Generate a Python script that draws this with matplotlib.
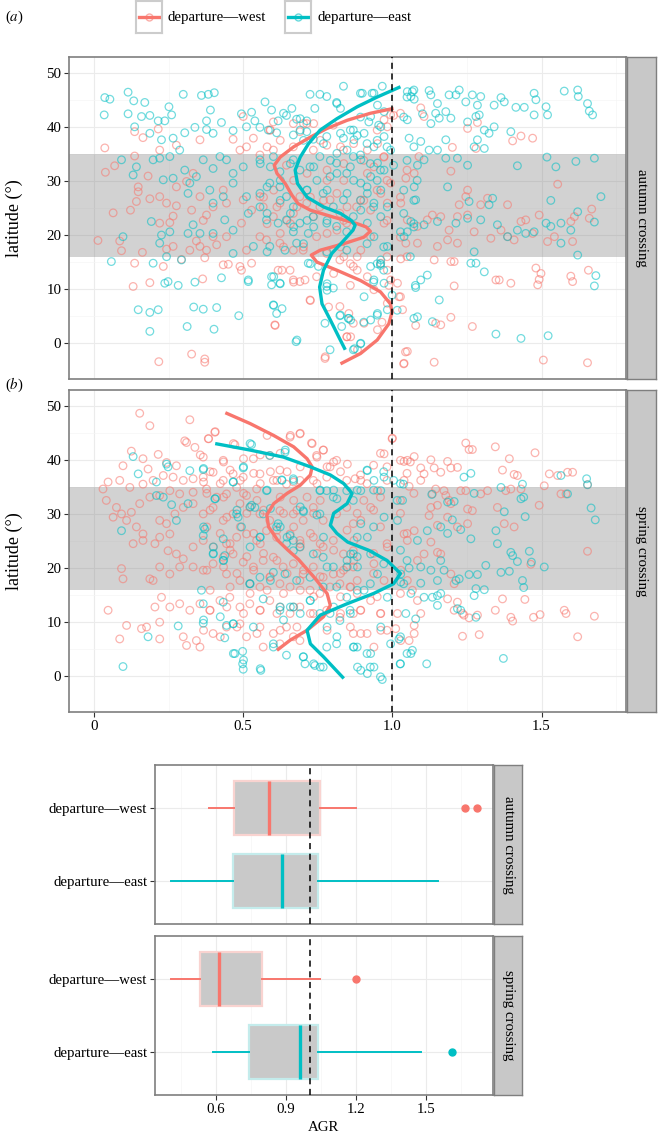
import numpy as np
import matplotlib
matplotlib.use('Agg')
from matplotlib import pyplot as plt

plt.rcParams['font.family'] = ['Liberation Serif', 'DejaVu Serif']
plt.rcParams['mathtext.fontset'] = 'stix'

RED = '#F8766D'
CYAN = '#00BFC4'

# ---- scatter data (AGR, latitude) ----
aut_west = [
    (0.013, 19.0), (0.086, 18.9), (0.092, 17.1), (0.162, 16.8), (0.243, 17.4), (0.265, 17.9), (0.343, 18.9),
    (0.377, 17.2), (0.411, 18.2), (0.136, 14.8), (0.232, 14.2), (0.293, 15.5), (0.371, 15.8), (0.433, 14.5),
    (0.450, 14.6), (0.494, 13.5), (0.489, 14.2), (0.528, 14.8), (0.617, 13.5), (0.657, 13.5), (0.668, 11.7),
    (0.690, 11.4), (0.707, 11.7), (0.724, 8.0), (0.746, 12.3), (0.131, 10.5), (0.187, 11.2), (0.364, 11.9),
    (0.606, 3.4), (0.774, -2.8), (0.824, 6.8), (0.847, 1.2), (0.327, -2.0), (0.371, -2.9), (0.371, -3.5),
    (0.217, -3.4), (0.869, 3.7), (0.036, 36.1), (0.069, 32.8), (0.038, 31.6), (0.136, 39.1), (0.164, 38.0),
    (0.136, 34.6), (0.181, 30.9), (0.148, 28.9), (0.148, 28.0), (0.064, 24.1), (0.122, 24.6), (0.142, 26.2),
    (0.187, 26.7), (0.220, 27.1), (0.243, 25.9), (0.276, 25.4), (0.265, 23.5), (0.254, 22.3), (0.220, 22.2),
    (0.276, 28.9), (0.310, 29.9), (0.332, 31.4), (0.327, 24.6), (0.355, 27.1), (0.366, 22.7), (0.377, 23.7),
    (0.399, 25.2), (0.444, 25.9), (0.433, 28.3), (0.500, 26.5), (0.528, 24.6), (0.556, 27.1), (0.567, 25.2),
    (0.601, 23.4), (0.623, 25.9), (0.668, 24.0), (0.690, 27.1), (0.713, 25.9), (0.735, 23.4), (0.757, 25.2),
    (0.791, 26.5), (0.824, 24.0), (0.847, 22.2), (0.880, 25.2), (0.489, 35.7), (0.511, 36.3), (0.556, 34.8),
    (0.601, 35.7), (0.645, 32.9), (0.668, 36.3), (0.735, 35.7), (0.780, 36.6), (0.836, 35.7), (0.215, 39.6),
    (0.220, 35.7), (0.276, 36.6), (0.355, 37.6), (0.466, 37.7), (0.534, 37.9), (0.589, 39.4), (0.601, 40.9),
    (0.668, 40.6), (0.690, 39.1), (0.802, 40.3), (0.500, 41.9), (0.713, 40.6), (0.494, 22.2), (0.556, 19.7),
    (0.623, 18.5), (0.668, 17.2), (0.701, 17.2), (0.746, 19.7), (0.780, 16.6), (0.824, 15.4), (0.869, 14.2),
    (0.399, 19.7), (0.444, 19.7), (0.511, 17.2), (0.578, 19.1), (0.321, 17.2), (0.355, 17.9),
    (1.095, 43.5), (1.106, 41.9), (1.252, 39.7), (1.285, 40.8), (1.403, 37.4), (1.431, 38.3), (1.470, 37.9),
    (1.201, 36.2), (1.280, 36.0), (1.045, 30.5), (1.089, 34.5), (1.073, 31.4), (1.196, 31.8), (1.252, 28.3),
    (1.246, 27.1), (1.224, 25.6), (1.296, 25.6), (1.386, 25.6), (1.319, 26.8), (1.554, 29.4), (1.668, 24.8),
    (1.028, 25.9), (1.050, 22.8), (1.084, 21.6), (1.117, 22.8), (1.134, 23.7), (1.162, 23.4), (1.190, 20.9),
    (1.218, 23.4), (1.252, 23.7), (1.274, 20.6), (1.330, 19.4), (1.364, 20.9), (1.386, 19.7), (1.408, 19.1),
    (1.431, 22.5), (1.447, 22.8), (1.470, 20.3), (1.492, 23.7), (1.520, 18.8), (1.543, 19.7), (1.598, 22.5),
    (1.604, 18.8), (1.610, 23.4), (1.660, 23.1), (1.045, 18.5), (1.084, 18.5), (1.151, 17.9), (1.185, 19.1),
    (1.218, 18.5), (1.028, 15.6), (1.140, 15.4), (1.196, 15.1), (1.207, 10.6), (1.207, 15.1), (1.268, 3.1),
    (1.162, 3.4), (1.196, 4.8), (1.145, 3.7), (1.347, 11.7), (1.358, 11.7), (1.397, 11.1), (1.481, 13.9),
    (1.498, 12.9), (1.492, 11.8), (1.487, 10.8), (1.598, 12.4), (1.604, 11.4), (1.657, 13.5), (1.050, -1.5),
    (1.039, -3.7), (1.140, -3.5), (1.506, -3.1), (1.654, -3.6), (1.078, 3.3), (1.022, 8.6), (1.034, 6.2),
    (1.017, 11.1), (0.994, 42.2), (0.972, 41.3), (0.983, 40.0), (0.950, 36.9), (0.916, 35.7), (0.972, 34.5),
    (0.938, 32.6), (0.994, 29.6), (0.916, 31.4), (0.961, 27.7), (0.894, 26.5), (0.983, 25.9), (0.927, 24.6),
    (0.972, 22.2), (0.927, 19.7), (0.894, 17.2), (0.961, 14.8), (0.983, 13.5), (0.916, 12.3), (0.938, 9.9),
    (0.994, 11.7), (0.905, 3.7), (0.950, 2.5), (0.983, 7.4), (0.860, 1.2), (0.883, -1.2),
    (0.591, 39.4), (0.702, 40.6), (0.736, 40.6), (0.758, 37.5), (0.826, 36.3), (0.870, 36.9), (0.949, 39.4),
    (1.004, 42.1), (1.027, 42.5), (0.904, 33.8), (0.971, 34.4), (0.837, 33.2), (0.781, 32.0), (0.714, 31.4),
    (0.669, 30.1), (0.602, 28.3), (0.568, 27.0), (0.613, 25.2), (0.680, 25.2), (0.725, 27.0), (0.769, 26.4),
    (0.814, 27.7), (0.848, 25.2), (0.904, 26.4), (0.949, 28.3), (0.982, 30.1), (0.837, 30.1), (0.781, 30.1),
    (0.647, 22.7), (0.837, 22.7), (0.982, 22.7), (1.027, 27.0), (1.049, 32.0), (0.580, 36.3), (0.624, 37.5),
    (0.580, 22.1), (0.624, 20.3), (0.658, 22.1), (0.635, 17.8), (0.702, 17.8), (0.781, 20.3), (0.814, 20.9),
    (0.826, 17.8), (0.837, 16.0), (0.882, 16.0), (0.859, 14.7), (0.882, 13.5), (0.982, 16.0), (1.027, 19.6),
    (1.049, 16.0), (0.803, 12.9), (0.859, 10.7), (0.988, 10.7), (1.027, 8.6), (0.786, 6.7), (0.854, 5.5),
    (0.848, 1.2), (0.775, -2.5), (1.044, -1.6), (1.038, -3.8), (0.965, 3.9), (0.669, 11.3), (0.607, 3.3),
    (0.725, 7.9), (0.630, 13.5),
]

aut_east = [
    (0.036, 45.4), (0.053, 45.1), (0.034, 42.2), (0.114, 46.4), (0.133, 44.8), (0.170, 44.5), (0.114, 42.4),
    (0.136, 40.0), (0.159, 41.9), (0.187, 42.1), (0.215, 41.1), (0.251, 43.7), (0.260, 42.2), (0.237, 41.1),
    (0.299, 46.0), (0.360, 45.8), (0.383, 46.0), (0.403, 46.3), (0.390, 43.1), (0.377, 41.1), (0.427, 40.8),
    (0.494, 42.4), (0.528, 42.7), (0.539, 41.1), (0.573, 44.6), (0.595, 43.1), (0.617, 41.1), (0.645, 42.1),
    (0.679, 41.4), (0.724, 46.0), (0.757, 46.0), (0.780, 45.6), (0.836, 47.5), (0.813, 44.5), (0.740, 43.4),
    (0.713, 41.1), (0.187, 38.8), (0.226, 37.6), (0.265, 37.9), (0.304, 38.9), (0.338, 39.9), (0.377, 39.5),
    (0.399, 38.8), (0.466, 39.3), (0.511, 40.0), (0.556, 39.9), (0.584, 39.4), (0.612, 38.9), (0.668, 38.5),
    (0.713, 39.1), (0.735, 37.7), (0.780, 38.2), (0.836, 37.9), (0.869, 39.4), (0.092, 33.9), (0.131, 31.1),
    (0.142, 32.6), (0.198, 33.9), (0.220, 34.2), (0.254, 34.5), (0.287, 35.7), (0.304, 32.0), (0.321, 29.6),
    (0.343, 30.8), (0.366, 33.9), (0.399, 32.3), (0.422, 34.5), (0.444, 33.9), (0.466, 31.4), (0.500, 32.6),
    (0.556, 33.9), (0.601, 34.5), (0.623, 31.7), (0.668, 33.9), (0.690, 32.0), (0.724, 32.6), (0.757, 34.5),
    (0.791, 30.8), (0.813, 33.3), (0.847, 31.4), (0.869, 34.5), (0.232, 30.2), (0.265, 30.5), (0.315, 27.7),
    (0.388, 28.3), (0.399, 25.9), (0.433, 27.1), (0.466, 29.6), (0.511, 27.1), (0.556, 27.7), (0.589, 29.6),
    (0.623, 28.9), (0.645, 27.1), (0.668, 25.2), (0.713, 28.3), (0.768, 27.7), (0.802, 25.2), (0.836, 26.5),
    (0.192, 22.5), (0.226, 20.0), (0.220, 18.5), (0.254, 20.6), (0.315, 20.3), (0.332, 21.9), (0.355, 20.3),
    (0.399, 20.3), (0.438, 22.8), (0.466, 20.9), (0.517, 24.0), (0.556, 25.2), (0.578, 22.8), (0.617, 22.2),
    (0.645, 22.8), (0.668, 20.6), (0.690, 22.2), (0.718, 20.3), (0.735, 23.4), (0.780, 22.2), (0.813, 21.6),
    (0.847, 20.6), (0.869, 23.4), (0.097, 19.7), (0.058, 15.1), (0.198, 14.8), (0.243, 16.0), (0.293, 15.4),
    (0.466, 16.6), (0.517, 11.7), (0.517, 11.4), (0.534, 17.9), (0.589, 17.9), (0.640, 17.2), (0.679, 18.5),
    (0.718, 14.8), (0.752, 14.2), (0.780, 16.9), (0.847, 17.2), (0.237, 11.1), (0.248, 11.4), (0.282, 10.7),
    (0.338, 11.3), (0.427, 12.1), (0.595, 12.3), (0.623, 11.1), (0.595, 10.8), (0.780, 10.5), (0.802, 10.2),
    (0.148, 6.2), (0.187, 5.7), (0.215, 6.2), (0.334, 6.7), (0.366, 6.3), (0.411, 6.6), (0.485, 5.1),
    (0.601, 7.1), (0.612, 5.5), (0.187, 2.2), (0.312, 3.1), (0.402, 2.6), (0.677, 0.3), (0.774, 3.7),
    (0.824, 5.1), (0.852, 4.6), (0.830, 3.1), (0.869, -1.2), (0.791, -1.2),
    (1.050, 46.5), (1.062, 45.6), (1.067, 46.5), (1.073, 45.1), (1.123, 46.7), (1.129, 45.9), (1.151, 44.3),
    (1.190, 45.9), (1.213, 45.9), (1.224, 46.8), (1.246, 44.6), (1.268, 45.9), (1.285, 44.0), (1.296, 45.6),
    (1.341, 44.0), (1.364, 45.4), (1.375, 44.6), (1.414, 43.6), (1.442, 43.6), (1.475, 46.2), (1.481, 45.0),
    (1.475, 42.2), (1.515, 43.7), (1.520, 42.2), (1.576, 46.6), (1.621, 46.8), (1.623, 45.6), (1.654, 44.3),
    (1.660, 42.9), (1.671, 42.2), (1.101, 42.4), (1.145, 42.5), (1.157, 41.6), (1.179, 42.8), (1.196, 41.6),
    (1.252, 40.9), (1.280, 41.9), (1.291, 42.2), (1.308, 39.4), (1.324, 38.8), (1.341, 40.0), (1.050, 41.3),
    (1.056, 37.9), (1.095, 37.3), (1.123, 35.7), (1.151, 35.7), (1.179, 37.6), (1.285, 37.6), (1.274, 36.3),
    (1.308, 36.0), (1.397, 39.1), (1.129, 40.6), (1.084, 32.9), (1.106, 33.9), (1.179, 34.2), (1.218, 34.2),
    (1.252, 32.9), (1.419, 32.8), (1.518, 34.4), (1.548, 32.6), (1.615, 33.6), (1.677, 34.2), (1.073, 28.9),
    (1.078, 26.5), (1.185, 28.9), (1.257, 26.2), (1.324, 25.6), (1.336, 26.8), (1.531, 26.4), (1.699, 27.1),
    (1.621, 24.3), (1.106, 21.9), (1.151, 22.5), (1.213, 22.2), (1.252, 23.1), (1.296, 22.8), (1.352, 21.9),
    (1.386, 19.7), (1.419, 20.9), (1.447, 20.3), (1.475, 20.6), (1.515, 22.2), (1.531, 21.6), (1.565, 22.2),
    (1.598, 20.9), (1.677, 22.4), (1.565, 18.5), (1.621, 16.3), (1.274, 16.9), (1.263, 14.8), (1.280, 14.8),
    (1.308, 13.2), (1.095, 11.7), (1.078, 10.3), (1.117, 12.6), (1.682, 12.5), (1.677, 10.6), (1.157, 8.0),
    (1.084, 4.9), (1.134, 4.0), (1.347, 1.7), (1.431, 0.9), (1.522, 1.4), (1.062, 22.5), (1.050, 20.6),
    (1.039, 19.7), (0.938, 46.2), (0.966, 47.5), (0.899, 46.2), (0.950, 44.0), (0.972, 42.8), (0.927, 41.9),
    (0.961, 40.0), (0.871, 37.6), (0.905, 38.8), (0.972, 38.2), (0.938, 36.3), (0.994, 35.7), (0.894, 33.9),
    (0.950, 33.3), (0.972, 32.0), (0.927, 30.8), (0.894, 29.6), (0.961, 28.3), (0.916, 27.7), (0.983, 25.2),
    (0.938, 25.9), (0.894, 24.6), (0.961, 23.4), (0.916, 22.2), (0.938, 19.7), (0.983, 17.9), (0.961, 15.4),
    (0.927, 14.2), (0.938, 11.7), (0.972, 11.1), (0.905, 8.6), (0.950, 5.5), (0.927, 4.3), (0.860, 4.3),
    (0.894, 0.0), (0.983, 6.2),
    (0.635, 42.5), (0.663, 43.4), (0.691, 41.5), (0.814, 44.3), (0.826, 43.4), (0.893, 46.2), (0.932, 46.2),
    (0.893, 41.8), (0.921, 40.9), (0.954, 40.3), (0.859, 39.4), (0.826, 38.8), (0.882, 38.4), (0.915, 36.9),
    (0.949, 37.5), (0.982, 36.3), (0.848, 35.7), (0.814, 35.1), (0.893, 34.8), (0.926, 33.2), (0.960, 32.0),
    (1.004, 32.9), (0.859, 32.6), (0.814, 31.4), (0.870, 30.1), (0.915, 28.9), (0.949, 30.1), (0.848, 27.7),
    (0.893, 26.4), (0.937, 25.2), (0.747, 30.1), (0.781, 28.3), (0.736, 32.6), (0.792, 33.8), (0.714, 28.3),
    (0.658, 33.2), (0.624, 30.1), (0.591, 32.6), (0.557, 33.2), (0.580, 28.9), (0.624, 26.4), (0.658, 24.0),
    (0.580, 24.0), (0.714, 22.7), (0.781, 22.7), (0.691, 39.4), (0.702, 37.5), (0.769, 36.9), (1.072, 46.8),
    (1.049, 45.5), (1.038, 41.8), (1.072, 36.3), (1.049, 33.8), (1.083, 30.1), (1.038, 28.3), (1.072, 26.4),
    (1.038, 24.0), (1.072, 22.1), (0.602, 12.3), (0.624, 11.0), (0.602, 7.0), (0.630, 6.4), (0.680, 0.6),
    (0.781, 11.0), (0.781, 9.8), (0.826, 5.2), (0.854, 4.6), (0.904, 3.9), (0.937, 11.3), (0.971, 13.5),
    (0.960, 14.4), (1.016, 6.1), (0.999, 8.9), (0.949, 5.2), (0.873, -1.0), (0.893, -0.1), (1.077, 10.7),
    (1.072, 4.6), (0.960, 14.7), (1.060, 16.0), (1.072, 21.5), (1.027, 20.6), (0.702, 18.4), (0.669, 21.5),
    (0.580, 16.9), (0.725, 14.7), (0.736, 21.5), (0.915, 18.4), (0.949, 14.7), (0.971, 17.8),
]

spr_west = [
    (0.153, 48.6), (0.187, 46.3), (0.321, 47.4), (0.304, 43.5), (0.405, 45.1), (0.383, 43.9), (0.338, 42.3),
    (0.310, 43.2), (0.125, 41.6), (0.164, 40.2), (0.097, 38.9), (0.181, 38.3), (0.215, 41.0), (0.243, 39.5),
    (0.276, 38.9), (0.366, 40.5), (0.433, 39.9), (0.472, 42.8), (0.534, 40.2), (0.589, 40.8), (0.657, 44.2),
    (0.690, 44.8), (0.729, 43.1), (0.768, 41.8), (0.746, 40.8), (0.813, 39.9), (0.791, 38.7), (0.623, 38.1),
    (0.556, 37.4), (0.500, 36.8), (0.466, 37.4), (0.433, 36.2), (0.399, 37.7), (0.366, 36.8), (0.332, 36.5),
    (0.299, 36.2), (0.265, 36.8), (0.232, 37.1), (0.198, 36.2), (0.164, 35.5), (0.047, 35.9), (0.030, 34.6),
    (0.041, 32.5), (0.086, 36.2), (0.120, 34.9), (0.064, 29.4), (0.092, 30.0), (0.125, 30.3), (0.153, 31.9),
    (0.187, 33.1), (0.220, 33.4), (0.254, 34.3), (0.287, 33.7), (0.332, 34.0), (0.377, 34.6), (0.411, 33.1),
    (0.444, 33.7), (0.478, 34.9), (0.511, 33.4), (0.545, 34.6), (0.601, 36.2), (0.645, 35.5), (0.690, 36.2),
    (0.735, 36.2), (0.780, 36.8), (0.847, 36.2), (0.875, 36.5), (0.075, 31.2), (0.109, 28.8), (0.142, 27.6),
    (0.164, 26.3), (0.131, 24.5), (0.164, 25.1), (0.204, 24.5), (0.220, 28.8), (0.243, 28.2), (0.271, 30.0),
    (0.299, 31.2), (0.332, 31.9), (0.366, 30.0), (0.399, 31.2), (0.433, 28.8), (0.466, 30.0), (0.489, 31.9),
    (0.522, 31.2), (0.556, 30.0), (0.589, 28.8), (0.623, 30.6), (0.668, 30.0), (0.701, 28.8), (0.735, 31.2),
    (0.768, 28.8), (0.813, 30.0), (0.847, 31.2), (0.869, 28.2), (0.220, 25.7), (0.254, 26.3), (0.276, 22.6),
    (0.299, 21.7), (0.332, 23.9), (0.366, 25.1), (0.399, 23.9), (0.444, 24.5), (0.478, 25.7), (0.511, 26.3),
    (0.545, 25.1), (0.578, 26.9), (0.612, 25.7), (0.657, 26.3), (0.690, 25.1), (0.735, 25.7), (0.768, 23.9),
    (0.802, 25.1), (0.836, 22.6), (0.869, 23.2), (0.092, 19.9), (0.097, 18.0), (0.187, 18.0), (0.198, 17.7),
    (0.248, 23.2), (0.220, 20.2), (0.254, 18.9), (0.287, 20.2), (0.332, 20.2), (0.366, 19.6), (0.399, 20.8),
    (0.433, 22.0), (0.466, 22.6), (0.500, 21.1), (0.534, 20.2), (0.567, 21.4), (0.601, 22.0), (0.634, 20.2),
    (0.668, 20.8), (0.701, 18.9), (0.735, 20.2), (0.768, 18.3), (0.802, 18.9), (0.836, 19.6), (0.869, 20.2),
    (0.444, 18.9), (0.489, 17.7), (0.522, 17.1), (0.556, 16.5), (0.589, 18.3), (0.623, 17.1), (0.657, 16.5),
    (0.690, 17.7), (0.724, 15.9), (0.757, 15.3), (0.791, 16.5), (0.824, 17.1), (0.858, 16.5), (0.047, 12.2),
    (0.226, 14.6), (0.204, 12.8), (0.254, 12.8), (0.287, 13.4), (0.321, 12.2), (0.355, 13.4), (0.388, 12.2),
    (0.422, 14.0), (0.455, 14.6), (0.489, 12.8), (0.522, 13.4), (0.556, 12.2), (0.589, 14.0), (0.623, 12.8),
    (0.657, 11.6), (0.690, 12.8), (0.735, 11.6), (0.780, 12.2), (0.824, 10.9), (0.869, 11.6), (0.109, 9.4),
    (0.159, 8.8), (0.176, 9.1), (0.220, 10.0), (0.086, 6.9), (0.220, 6.9), (0.299, 7.3), (0.310, 5.7),
    (0.343, 6.6), (0.355, 5.4), (0.399, 7.9), (0.444, 9.1), (0.489, 9.7), (0.511, 7.3), (0.556, 9.1),
    (0.601, 7.9), (0.668, 7.3), (0.645, 9.1), (0.567, 5.4), (0.623, 6.0), (0.690, 6.6), (0.869, 7.9),
    (1.246, 43.1), (1.257, 41.9), (1.268, 41.9), (1.345, 42.4), (1.478, 41.3), (1.000, 44.0), (0.972, 41.1),
    (1.039, 39.7), (1.050, 39.9), (1.073, 40.6), (1.095, 38.5), (1.106, 37.4), (1.129, 40.0), (1.140, 38.5),
    (1.162, 37.7), (1.185, 39.7), (1.196, 38.5), (1.218, 38.6), (1.369, 38.1), (1.392, 40.2), (1.408, 37.3),
    (1.419, 37.1), (1.526, 37.4), (1.554, 37.1), (1.587, 37.7), (1.604, 37.7), (1.565, 33.7), (1.582, 33.7),
    (1.654, 35.4), (1.039, 36.2), (1.056, 35.1), (1.095, 36.2), (1.134, 33.7), (1.145, 34.6), (1.173, 34.3),
    (1.179, 33.4), (1.190, 32.5), (1.196, 31.9), (1.229, 34.3), (1.246, 34.3), (1.296, 33.7), (1.319, 34.3),
    (1.352, 31.2), (1.380, 34.3), (1.397, 34.6), (1.431, 34.6), (1.492, 31.6), (1.509, 35.2), (1.129, 31.2),
    (1.151, 31.6), (1.252, 30.9), (1.268, 30.6), (1.123, 29.7), (1.151, 27.9), (1.185, 29.4), (1.218, 27.6),
    (1.252, 28.2), (1.375, 28.2), (1.408, 27.6), (1.039, 26.3), (1.050, 25.1), (1.073, 26.9), (1.129, 24.8),
    (1.151, 22.9), (1.106, 22.6), (1.084, 21.4), (1.162, 22.6), (1.196, 18.9), (1.207, 17.1), (1.028, 19.6),
    (1.050, 17.7), (1.067, 15.9), (1.084, 14.0), (1.185, 14.3), (1.218, 13.7), (1.235, 11.6), (1.240, 11.3),
    (1.207, 12.2), (1.257, 10.8), (1.285, 11.3), (1.345, 12.2), (1.369, 14.3), (1.397, 10.9), (1.403, 10.2),
    (1.444, 14.2), (1.473, 10.9), (1.495, 11.4), (1.576, 12.2), (1.582, 11.6), (1.654, 23.1), (1.464, 20.7),
    (1.677, 11.1), (1.621, 7.3), (1.235, 7.4), (1.291, 7.7), (1.073, 9.4), (1.073, 7.9), (1.056, 6.6),
    (1.095, 11.6), (1.017, 11.6), (1.011, 8.8), (1.028, 6.6), (0.961, 11.6), (0.961, 8.5), (0.938, 5.4),
    (0.894, 7.9), (0.927, 14.0), (0.894, 12.2), (0.860, 16.5), (0.849, 20.2), (0.871, 25.1), (0.894, 28.8),
    (0.927, 31.2), (0.950, 34.3), (0.894, 36.2), (0.849, 39.2), (0.972, 17.7), (0.938, 20.8), (0.983, 23.9),
    (0.406, 45.2), (0.384, 43.9), (0.467, 43.0), (0.580, 44.5), (0.658, 44.5), (0.691, 44.9), (0.731, 43.0),
    (0.769, 41.8), (0.747, 40.5), (0.803, 39.6), (0.960, 41.2), (0.999, 43.9), (1.027, 39.9), (1.060, 39.6),
    (0.356, 40.9), (0.434, 39.6), (0.501, 40.2), (0.557, 40.9), (0.624, 41.2), (0.389, 37.8), (0.456, 38.1),
    (0.535, 37.5), (0.591, 37.8), (0.647, 37.8), (0.691, 38.7), (0.781, 38.7), (0.826, 37.8), (0.893, 37.2),
    (0.937, 39.0), (0.982, 38.7), (1.049, 37.5), (0.367, 35.9), (0.423, 35.6), (0.490, 36.2), (0.557, 35.6),
    (0.613, 36.2), (0.669, 35.9), (0.747, 35.6), (0.915, 35.6), (0.982, 36.2), (0.378, 33.8), (0.434, 33.1),
    (0.501, 33.8), (0.546, 32.5), (0.624, 33.1), (0.669, 32.5), (0.714, 33.1), (0.758, 32.5), (0.904, 32.5),
    (0.960, 33.1), (1.027, 32.5), (1.072, 33.8), (0.389, 30.7), (0.445, 29.4), (0.512, 30.1), (0.568, 30.7),
    (0.635, 30.1), (0.680, 30.7), (0.736, 30.1), (0.882, 30.1), (0.937, 30.7), (1.027, 30.1), (0.378, 27.6),
    (0.423, 26.4), (0.490, 27.6), (0.535, 26.4), (0.613, 27.0), (0.669, 27.6), (0.725, 26.4), (0.848, 27.0),
    (0.960, 27.6), (1.049, 26.4), (0.456, 24.5), (0.557, 24.5), (0.691, 24.5), (0.758, 24.5), (0.982, 24.5),
    (0.456, 23.3), (0.512, 22.1), (0.568, 22.7), (0.613, 21.4), (0.691, 23.9), (0.747, 22.7), (0.803, 23.3),
    (0.870, 21.4), (0.937, 22.7), (0.378, 19.6), (0.434, 20.2), (0.479, 19.0), (0.535, 19.6), (0.591, 18.4),
    (0.647, 19.0), (0.702, 19.6), (0.758, 18.4), (0.826, 19.0), (0.882, 17.7), (0.937, 19.0), (0.389, 15.9),
    (0.456, 16.5), (0.523, 15.3), (0.580, 15.9), (0.635, 15.3), (0.691, 15.9), (0.736, 14.7), (0.826, 14.7),
    (0.882, 15.3), (0.949, 14.7), (1.027, 15.3), (0.389, 12.2), (0.445, 12.8), (0.501, 11.6), (0.557, 12.2),
    (0.613, 11.6), (0.669, 12.8), (0.725, 11.6), (0.826, 11.6), (0.893, 12.2), (0.960, 11.6), (0.367, 8.5),
    (0.423, 7.3), (0.479, 9.1), (0.546, 7.9), (0.624, 8.5), (0.680, 9.1), (0.781, 8.5), (0.859, 9.1),
    (0.915, 7.9), (0.982, 8.5),
]

spr_east = [
    (0.131, 40.6), (0.148, 37.4), (0.209, 35.9), (0.243, 39.2), (0.248, 38.7), (0.321, 38.0), (0.366, 38.2),
    (0.466, 35.9), (0.500, 38.5), (0.528, 42.8), (0.589, 40.8), (0.640, 41.4), (0.668, 36.5), (0.629, 36.3),
    (0.578, 34.3), (0.209, 33.4), (0.232, 33.1), (0.260, 31.7), (0.315, 31.9), (0.405, 32.8), (0.478, 30.0),
    (0.483, 29.4), (0.528, 31.6), (0.539, 31.2), (0.567, 30.0), (0.617, 28.2), (0.657, 26.0), (0.668, 25.1),
    (0.701, 30.6), (0.757, 34.3), (0.780, 34.3), (0.802, 33.1), (0.847, 34.3), (0.869, 32.5), (0.757, 30.0),
    (0.092, 26.9), (0.276, 28.8), (0.371, 27.2), (0.366, 26.0), (0.433, 25.4), (0.399, 22.6), (0.438, 22.3),
    (0.433, 21.4), (0.494, 27.6), (0.556, 25.7), (0.612, 27.6), (0.645, 24.5), (0.668, 23.2), (0.690, 23.9),
    (0.735, 22.6), (0.768, 22.0), (0.802, 20.2), (0.847, 20.2), (0.869, 22.6), (0.522, 17.1), (0.556, 18.3),
    (0.601, 19.2), (0.640, 18.9), (0.679, 17.7), (0.724, 18.3), (0.768, 16.5), (0.813, 16.5), (0.847, 14.6),
    (0.360, 15.9), (0.433, 13.7), (0.366, 13.4), (0.567, 14.3), (0.623, 12.2), (0.668, 12.8), (0.724, 14.0),
    (0.757, 11.6), (0.791, 11.6), (0.824, 10.3), (0.858, 12.2), (0.282, 9.3), (0.181, 7.3), (0.366, 9.8),
    (0.438, 7.1), (0.444, 9.4), (0.466, 9.7), (0.534, 9.1), (0.601, 6.0), (0.601, 5.4), (0.472, 4.2),
    (0.498, 4.6), (0.498, 2.3), (0.500, 1.3), (0.559, 1.1), (0.645, 3.9), (0.701, 3.6), (0.707, 2.3),
    (0.740, 2.0), (0.768, 1.7), (0.780, 5.4), (0.813, 6.0), (0.869, 5.4), (0.097, 1.8),
    (1.263, 37.5), (1.240, 36.8), (1.132, 33.6), (1.185, 32.2), (1.207, 32.3), (1.274, 33.8), (1.364, 34.9),
    (1.431, 32.8), (1.436, 35.5), (1.440, 33.1), (1.375, 30.4), (1.445, 29.5), (1.565, 37.1), (1.587, 33.7),
    (1.651, 36.5), (1.654, 35.4), (1.666, 31.1), (1.680, 28.9), (1.037, 35.5), (1.034, 32.5), (1.017, 28.8),
    (1.084, 25.1), (1.117, 26.9), (1.162, 27.6), (1.201, 28.9), (1.185, 26.4), (1.229, 27.1), (1.263, 25.4),
    (1.347, 26.9), (1.352, 24.5), (1.397, 22.9), (1.403, 22.3), (1.459, 23.1), (1.466, 21.1), (1.509, 20.2),
    (1.364, 19.2), (1.392, 19.4), (1.419, 21.2), (1.436, 17.7), (1.440, 16.4), (1.313, 20.5), (1.285, 18.8),
    (1.257, 18.8), (1.224, 18.0), (1.213, 17.7), (1.162, 21.4), (1.173, 19.6), (1.151, 17.7), (1.129, 19.6),
    (1.095, 20.2), (1.056, 20.0), (1.028, 18.9), (1.028, 17.4), (1.062, 15.3), (1.095, 17.2), (1.106, 14.6),
    (1.134, 14.6), (1.151, 14.9), (1.162, 15.3), (1.151, 13.1), (1.218, 12.5), (1.229, 12.2), (1.280, 10.9),
    (1.274, 14.9), (1.280, 16.2), (1.308, 16.0), (1.045, 11.6), (1.078, 10.6), (1.022, 6.9), (1.067, 4.8),
    (1.062, 4.2), (1.026, 2.3), (1.115, 2.3), (1.372, 3.3), (0.994, 6.0), (0.961, 9.1), (0.927, 4.2),
    (0.894, 1.1), (0.916, 0.5), (0.871, 5.4), (0.883, 1.7), (0.938, 1.7), (0.966, -0.6), (0.860, 22.6),
    (0.916, 25.7), (0.894, 28.2), (0.972, 29.4), (0.927, 22.6), (0.883, 20.2), (0.950, 18.9), (0.983, 14.6),
    (0.905, 15.9), (0.961, 34.3), (0.938, 36.2), (0.894, 34.3), (0.916, 38.0), (0.972, 36.8),
    (0.400, 22.7), (0.434, 21.4), (0.523, 17.1), (0.591, 17.7), (0.624, 12.8), (0.658, 12.8), (0.691, 11.6),
    (0.635, 10.4), (0.725, 14.0), (0.781, 20.2), (0.848, 21.4), (0.882, 22.1), (0.803, 12.8), (0.859, 11.6),
    (0.781, 9.1), (0.814, 7.3), (0.882, 5.4), (0.915, 4.2), (0.926, 1.7), (0.960, -0.1), (0.702, 3.6),
    (0.736, 2.3), (0.758, 1.7), (0.501, 3.0), (0.557, 1.4), (0.467, 4.2), (0.367, 10.4), (0.423, 11.0),
    (0.467, 9.7), (1.027, 7.3), (1.049, 4.2), (1.027, 2.3), (1.038, 17.1), (1.027, 23.3), (1.049, 21.4),
    (0.971, 20.8), (0.926, 17.1), (0.882, 15.9), (0.523, 43.0), (0.641, 41.8), (0.501, 38.7), (0.367, 38.4),
    (0.467, 35.9), (0.630, 36.2), (0.669, 36.2), (0.580, 34.4), (0.406, 32.8), (0.479, 30.7), (0.523, 31.3),
    (0.591, 31.0), (0.691, 31.3), (0.758, 34.4), (0.803, 34.4), (0.814, 32.8), (0.882, 34.4), (0.915, 38.1),
    (0.971, 37.8), (1.004, 36.2), (1.027, 35.6), (1.016, 32.5), (0.937, 34.4), (0.747, 29.8), (0.702, 30.4),
    (0.367, 27.6), (0.624, 27.6), (0.647, 25.7), (0.557, 25.7), (0.769, 25.7), (0.882, 25.7), (0.937, 27.6),
    (0.523, 23.9), (0.400, 23.9),
]

# ---- smoothed curves (AGR, latitude) ----
aut_west_fit = [(0.826, -3.8), (0.893, -1.9), (0.949, 0.6), (0.988, 3.6), (0.999, 5.8), (0.993, 7.3),
                (0.960, 9.5), (0.893, 11.6), (0.814, 13.5), (0.747, 15.0), (0.728, 16.3), (0.758, 17.2),
                (0.837, 18.4), (0.904, 19.6), (0.926, 20.7), (0.912, 21.5), (0.882, 22.1), (0.803, 23.3),
                (0.725, 24.6), (0.684, 25.8), (0.663, 27.4), (0.641, 29.5), (0.613, 31.4), (0.604, 32.9),
                (0.624, 34.4), (0.669, 36.3), (0.725, 38.1), (0.781, 39.7), (0.848, 41.2), (0.926, 42.5),
                (1.004, 43.4)]
aut_east_fit = [(0.842, -1.2), (0.820, 1.2), (0.792, 4.3), (0.764, 7.3), (0.756, 10.4), (0.769, 13.5),
                (0.797, 16.6), (0.837, 19.0), (0.868, 20.9), (0.875, 21.8), (0.862, 22.7), (0.826, 24.0),
                (0.769, 25.2), (0.714, 27.0), (0.682, 29.5), (0.674, 32.0), (0.691, 34.4), (0.719, 36.9),
                (0.758, 39.4), (0.814, 41.5), (0.882, 43.7), (0.949, 45.5), (1.027, 47.4)]
spr_west_fit = [(0.440, 48.7), (0.523, 46.7), (0.602, 44.5), (0.669, 42.4), (0.714, 40.2), (0.731, 38.7),
                (0.725, 37.2), (0.691, 35.3), (0.647, 33.8), (0.602, 31.9), (0.579, 29.8), (0.585, 27.6),
                (0.616, 25.1), (0.650, 23.3), (0.685, 21.6), (0.736, 18.4), (0.781, 15.3), (0.792, 13.1),
                (0.769, 11.0), (0.714, 8.5), (0.658, 6.7), (0.613, 4.8)]
spr_east_fit = [(0.406, 43.0), (0.523, 41.8), (0.635, 40.5), (0.725, 38.7), (0.792, 37.2), (0.837, 35.6),
                (0.865, 33.8), (0.848, 31.9), (0.803, 30.1), (0.792, 27.9), (0.814, 26.4), (0.850, 24.8),
                (0.920, 23.3), (0.982, 21.4), (1.027, 19.0), (1.004, 17.1), (0.937, 15.3), (0.848, 13.4),
                (0.758, 11.3), (0.714, 8.5), (0.725, 6.0), (0.769, 3.6), (0.837, -0.4)]

# ---- boxplot summaries: (whisker low, q1, median, q3, whisker high, outliers) ----
groups = ['departure\u2014west', 'departure\u2014east']
aut_box = {'departure\u2014west': (0.57, 0.678, 0.826, 1.045, 1.20, [1.666, 1.716]),
           'departure\u2014east': (0.408, 0.671, 0.882, 1.037, 1.55, [])}
spr_box = {'departure\u2014west': (0.408, 0.532, 0.614, 0.796, 1.047, [1.197]),
           'departure\u2014east': (0.586, 0.742, 0.959, 1.037, 1.476, [1.611])}

W, H = 662, 1148
fig = plt.figure(figsize=(W / 100, H / 100), dpi=100)


def px_axes(l, t, r, b):
    return fig.add_axes([l / W, 1 - b / H, (r - l) / W, (b - t) / H])


FS = 10.7
SPINE = '#7f7f7f'


def style(ax):
    for s in ax.spines.values():
        s.set_color(SPINE)
        s.set_linewidth(1.2)
    ax.set_axisbelow(True)
    ax.grid(which='major', color='#ebebeb', lw=0.8, zorder=0)
    ax.grid(which='minor', color='#f5f5f5', lw=0.5, zorder=0)
    ax.tick_params(which='major', direction='out', length=3.5, width=0.8, color='#333333',
                   labelsize=FS, labelcolor='black', pad=2)
    ax.tick_params(which='minor', length=0)


def strip(l, t, r, b, text):
    sa = px_axes(l, t, r, b)
    sa.set_facecolor('#c8c8c8')
    sa.set_xticks([])
    sa.set_yticks([])
    for s in sa.spines.values():
        s.set_color(SPINE)
        s.set_linewidth(1.0)
    sa.text(0.5, 0.5, text, rotation=-90, ha='center', va='center', fontsize=FS, transform=sa.transAxes)


def scatter_panel(ax, west, east, wfit, efit, show_x):
    style(ax)
    ax.axhspan(16, 35, color='grey', alpha=0.35, lw=0, zorder=1)
    for pts, col in ((west, RED), (east, CYAN)):
        a = np.array(pts)
        ax.scatter(a[:, 0], a[:, 1], s=30, facecolors='none', edgecolors=col, alpha=0.55,
                   linewidths=0.9, zorder=2)
    for pts, col in ((wfit, RED), (efit, CYAN)):
        a = np.array(pts)
        ax.plot(a[:, 0], a[:, 1], color=col, lw=2.4, solid_capstyle='butt', solid_joinstyle='round',
                zorder=3)
    ax.axvline(1.0, color='black', lw=1.1, ls=(0, (4, 3)), zorder=4)
    ax.set_xlim(-0.084, 1.783)
    ax.set_ylim(-6.6, 52.9)
    ax.set_yticks([0, 10, 20, 30, 40, 50])
    ax.set_yticks([5, 15, 25, 35, 45], minor=True)
    ax.set_xticks([0, 0.5, 1.0, 1.5])
    ax.set_xticks([0.25, 0.75, 1.25, 1.75], minor=True)
    if show_x:
        ax.set_xticklabels(['0', '0.5', '1.0', '1.5'])
    else:
        ax.tick_params(axis='x', which='major', length=0, labelbottom=False)
    ax.set_ylabel('latitude (\u00b0)', fontsize=13, labelpad=17)


ax_a = px_axes(69, 57, 626, 379)
scatter_panel(ax_a, aut_west, aut_east, aut_west_fit, aut_east_fit, False)
strip(627, 57, 656, 379, 'autumn crossing')

ax_b = px_axes(69, 390, 626, 712)
scatter_panel(ax_b, spr_west, spr_east, spr_west_fit, spr_east_fit, True)
strip(627, 390, 656, 712, 'spring crossing')


def box_panel(ax, stats_by_group, show_x):
    style(ax)
    pos = {'departure\u2014west': 2, 'departure\u2014east': 1}
    for g, col, edge in ((groups[0], RED, '#f9d3d0'), (groups[1], CYAN, '#c4ecec')):
        lo, q1, med, q3, hi, fl = stats_by_group[g]
        st = [dict(whislo=lo, q1=q1, med=med, q3=q3, whishi=hi, fliers=fl)]
        kw = dict(positions=[pos[g]], widths=0.75, patch_artist=True, showcaps=False,
                  boxprops=dict(facecolor='#c9c9c9', edgecolor=edge, lw=1.6),
                  whiskerprops=dict(color=col, lw=1.4),
                  medianprops=dict(color=col, lw=2.4, solid_capstyle='butt'),
                  flierprops=dict(marker='o', markerfacecolor=col, markeredgecolor=col, markersize=5))
        try:
            ax.bxp(st, orientation='horizontal', **kw)
        except TypeError:
            ax.bxp(st, vert=False, **kw)
    ax.axvline(1.0, color='black', lw=1.1, ls=(0, (4, 3)), zorder=4)
    ax.set_xlim(0.339, 1.785)
    ax.set_ylim(0.4, 2.6)
    ax.set_yticks([2, 1])
    ax.set_yticklabels(groups)
    ax.set_xticks([0.6, 0.9, 1.2, 1.5])
    ax.set_xticks([0.45, 0.75, 1.05, 1.35, 1.65], minor=True)
    if show_x:
        ax.set_xticklabels(['0.6', '0.9', '1.2', '1.5'])
        ax.set_xlabel('AGR', fontsize=FS, labelpad=4)
    else:
        ax.tick_params(axis='x', which='major', length=0, labelbottom=False)


ax_c = px_axes(155, 765, 493, 924)
box_panel(ax_c, aut_box, False)
strip(494, 765, 522, 924, 'autumn crossing')

ax_d = px_axes(155, 936, 493, 1095)
box_panel(ax_d, spr_box, True)
strip(494, 936, 522, 1095, 'spring crossing')

# panel letters
fig.text(5 / W, 1 - 17 / H, r'($\it{a}$)', fontsize=FS, va='center', ha='left')
fig.text(5 / W, 1 - 385 / H, r'($\it{b}$)', fontsize=FS, va='center', ha='left')

# legend drawn ggplot-style with a framed key per entry
for (l, r, tx, lab, col) in ((136, 162, 168, groups[0], RED), (285, 311, 317, groups[1], CYAN)):
    ka = px_axes(l, 1, r, 33)
    ka.set_xlim(0, 1)
    ka.set_ylim(0, 1)
    ka.set_xticks([])
    ka.set_yticks([])
    for s in ka.spines.values():
        s.set_color('#cccccc')
        s.set_linewidth(1.5)
    ka.plot([0.12, 0.88], [0.5, 0.5], color=col, lw=2.4)
    ka.plot([0.5], [0.5], marker='o', ms=5, mfc='none', mec=col, alpha=0.6)
    fig.text(tx / W, 1 - 17 / H, lab, fontsize=FS, va='center', ha='left')

fig.savefig('out.png', dpi=100)
